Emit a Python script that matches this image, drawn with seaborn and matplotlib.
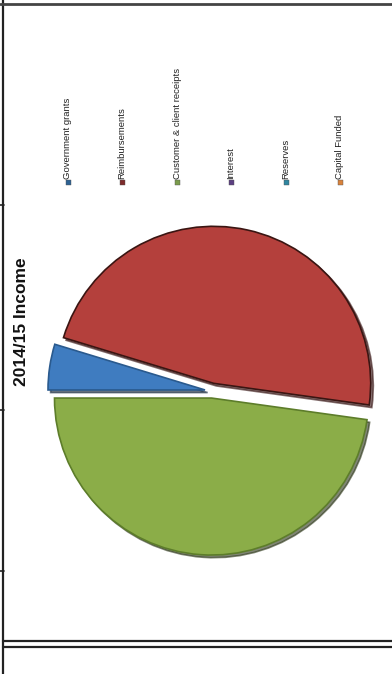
"""2014/15 income pie chart (page scanned sideways)."""
import matplotlib
matplotlib.use("Agg")
import matplotlib.pyplot as plt
from matplotlib.lines import Line2D
from matplotlib.patches import Rectangle
import seaborn as sns

categories = [
    "Government grants",
    "Reimbursements",
    "Customer & client receipts",
    "Interest",
    "Reserves",
    "Capital Funded",
]
income_share = [4.7, 47.5, 47.8, 0.0, 0.0, 0.0]
slice_colors = ["#3f7cc0", "#b4403c", "#8bad48", "#6a4c93", "#3a95b0", "#e08a3c"]
legend_colors = ["#2d6293", "#7e2b2b", "#7b9c4c", "#5c3f82", "#2f86a0", "#d9823b"]
edge_colors = ["#2a5a8e", "#3a1512", "#5d7d2a", "#3f2a66", "#1f6a80", "#a05a20"]
title = "2014/15 Income"

sns.set_theme(style="white")
plt.rcParams["font.family"] = ["Liberation Sans", "DejaVu Sans"]

W, H = 392, 674
fig = plt.figure(figsize=(W / 100, H / 100), dpi=100)

# pie axes: centre ~(212, 391) px, radius ~157 px
cx, cy, r = 212, 391, 157
half = 1.1 * r
ax = fig.add_axes([(cx - half) / W, (H - cy - half) / H, 2 * half / W, 2 * half / H])

keep = [i for i, v in enumerate(income_share) if v > 0]
wedges, _ = ax.pie(
    [income_share[i] for i in keep],
    colors=[slice_colors[i] for i in keep],
    startangle=180,
    counterclock=False,
    explode=[0.045, 0.05, 0.045],
    radius=1.0,
    wedgeprops=dict(linewidth=1.2),
    shadow={"ox": 0.012, "oy": -0.012, "shade": 0.7, "alpha": 0.6},
)
for w, i in zip(wedges, keep):
    w.set_edgecolor(edge_colors[i])
ax.set_xlim(-1.1, 1.1)
ax.set_ylim(-1.1, 1.1)
ax.set_aspect("equal")
ax.axis("off")

# legend: one row, text rotated (page is sideways)
leg_x = [68, 122, 177, 231, 286, 340]
leg_y = 182
for x, name, col in zip(leg_x, categories, legend_colors):
    fig.add_artist(Rectangle(((x - 2.5) / W, (H - leg_y - 2.5) / H), 5 / W, 5 / H,
                             transform=fig.transFigure, facecolor=col,
                             edgecolor="#555555", linewidth=0.3))
    fig.text(x / W, (H - leg_y + 3) / H, name, rotation=90, ha="center",
             va="bottom", fontsize=6.8, color="#222222")

fig.text(22 / W, (H - 322) / H, title, rotation=90, ha="center", va="center",
         fontsize=12.5, fontweight="bold", color="#111111")

# page frame lines
def frame(x0, y0, x1, y1, lw=1.6, c="#222222"):
    fig.add_artist(Line2D([x0 / W, x1 / W], [(H - y0) / H, (H - y1) / H],
                          transform=fig.transFigure, color=c, linewidth=lw))

frame(2.5, 0, 2.5, H)
frame(0, 3.5, W, 3.5, lw=2.0, c="#444444")
frame(2.5, 641, W, 641)
frame(2.5, 646.5, W, 646.5)
for ty in [205, 410, 571]:
    frame(0, ty, 4, ty, lw=1.2)

fig.savefig("out.png", dpi=100, facecolor="white")
plt.close(fig)
